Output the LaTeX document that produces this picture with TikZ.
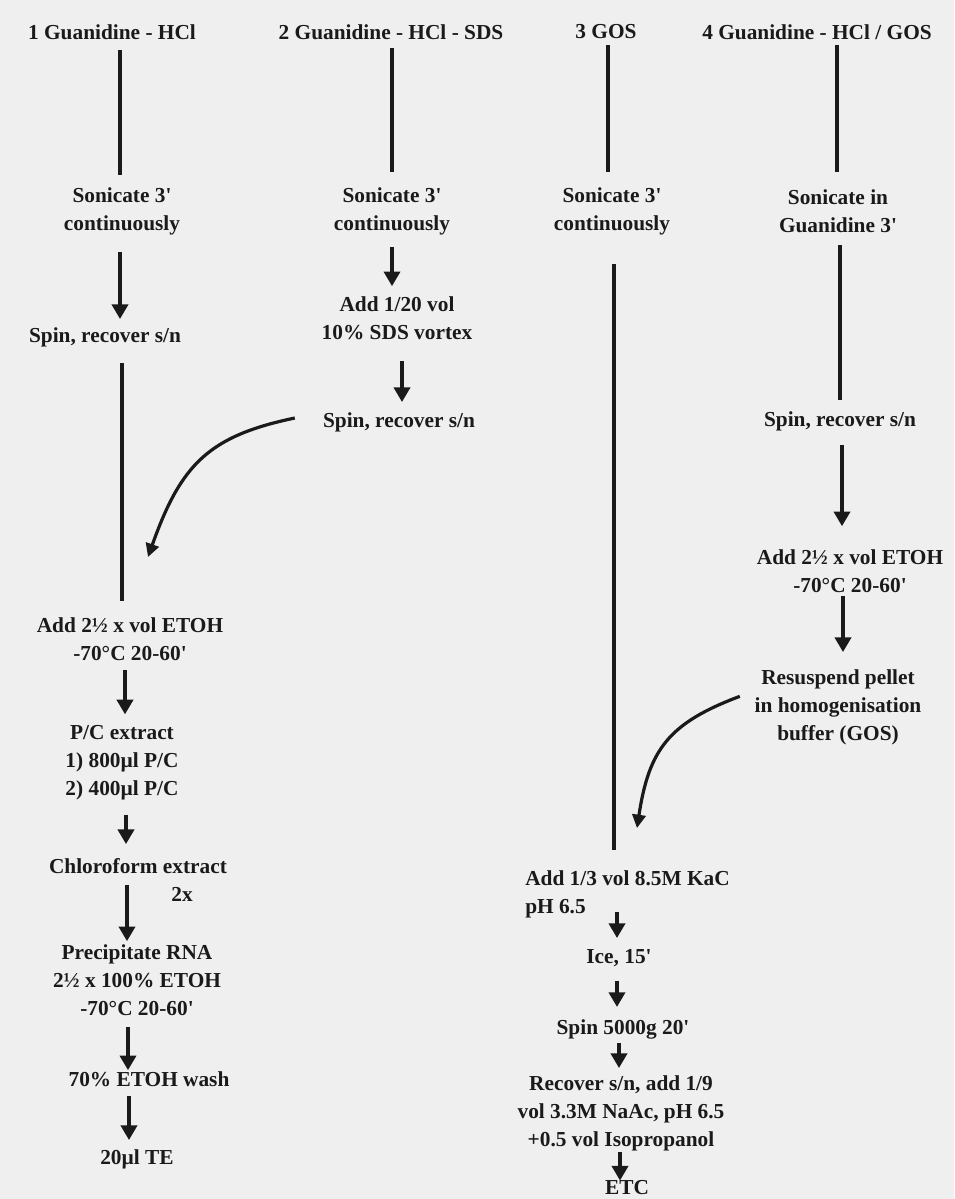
\documentclass[tikz,border=0pt]{standalone}
\usepackage{fontspec}
\setmainfont{Liberation Serif}
\usetikzlibrary{arrows.meta}
\definecolor{bg}{RGB}{239,239,239}
\definecolor{ink}{RGB}{26,26,26}
\newcommand{\pr}{\textquotesingle}
\begin{document}
\begin{tikzpicture}[x=0.75pt,y=-0.75pt,
  lbl/.style={inner sep=0pt, font=\bfseries\fontsize{16}{21}\selectfont, text=ink, align=center},
  lline/.style={line width=3.4pt, draw=ink},
  sarr/.style={line width=3.4pt, draw=ink, -{Triangle[width=12pt,length=11pt]}},
  carr/.style={line width=2.4pt, draw=ink, -{Triangle[width=10pt,length=10pt]}},
]
\fill[bg] (0,0) rectangle (954,1199);
\useasboundingbox (0,0) rectangle (954,1199);

% column 1
\node[lbl] (t1) at (112,32) {1 Guanidine - HCl};
\node[lbl] (s1) at (122,211) {Sonicate 3\pr\\continuously};
\node[lbl] (p1) at (105,337) {Spin, recover s/n};
\node[lbl] (e1) at (130,639) {Add 2½ x vol ETOH\\-70°C 20-60\pr};
\node[lbl] (pc1) at (122,763) {P/C extract\\1) 800µl P/C\\2) 400µl P/C};
\node[lbl] (ch1) at (138,866) {Chloroform extract};
\node[lbl] (x2) at (182,894) {2x};
\node[lbl] (pr1) at (137,980) {Precipitate RNA\\2½ x 100\% ETOH\\-70°C 20-60\pr};
\node[lbl] (w1) at (149,1079) {70\% ETOH wash};
\node[lbl] (te1) at (137,1159) {20µl TE};

% column 2
\node[lbl] (t2) at (391,32) {2 Guanidine - HCl - SDS};
\node[lbl] (s2) at (392,211) {Sonicate 3\pr\\continuously};
\node[lbl] (a2) at (397,318) {Add 1/20 vol\\10\% SDS vortex};
\node[lbl] (p2) at (399,422) {Spin, recover s/n};

% column 3
\node[lbl] (t3) at (606,32) {3 GOS};
\node[lbl] (s3) at (612,211) {Sonicate 3\pr\\continuously};
\node[lbl, anchor=west, align=left] (k3) at (525,894) {Add 1/3 vol 8.5M KaC\\pH 6.5};
\node[lbl] (i3) at (619,958) {Ice, 15\pr};
\node[lbl] (sp3) at (623,1029) {Spin 5000g 20\pr};
\node[lbl] (r3) at (621,1113) {Recover s/n, add 1/9\\vol 3.3M NaAc, pH 6.5\\+0.5 vol Isopropanol};
\node[lbl] (etc3) at (627,1188) {ETC};

% column 4
\node[lbl] (t4) at (817,32) {4 Guanidine - HCl / GOS};
\node[lbl] (s4) at (838,211) {Sonicate in\\Guanidine 3\pr};
\node[lbl] (p4) at (840,421) {Spin, recover s/n};
\node[lbl] (e4) at (850,571) {Add 2½ x vol ETOH\\-70°C 20-60\pr};
\node[lbl] (rs4) at (838,707) {Resuspend pellet\\in homogenisation\\buffer (GOS)};

\coordinate (cv1) at (148,557);
\coordinate (cv2) at (637,828);

% column 1 connectors
\draw[lline, shorten <=7.5pt, shorten >=9pt] (t1.south -| 120,0) -- (s1.north -| 120,0);
\draw[sarr, shorten <=12.75pt, shorten >=6pt] (s1.south -| 120,0) -- (p1.north -| 120,0);
\draw[lline, shorten <=12pt, shorten >=12pt] (p1.south -| 122,0) -- (e1.north -| 122,0);
\draw[sarr, shorten <=6.75pt, shorten >=8.25pt] (e1.south -| 125,0) -- (pc1.north -| 125,0);
\draw[sarr, shorten <=10.5pt, shorten >=10.5pt] (pc1.south -| 126,0) -- (ch1.north -| 126,0);
\draw[sarr, shorten <=8.25pt, shorten >=2.25pt] (ch1.south -| 127,0) -- (pr1.north -| 127,0);
\draw[sarr, shorten <=8.25pt, shorten >=0.75pt] (pr1.south -| 128,0) -- (w1.north -| 128,0);
\draw[sarr, shorten <=6.75pt, shorten >=6.75pt] (w1.south -| 129,0) -- (te1.north -| 129,0);

% column 2 connectors
\draw[lline, shorten <=6pt, shorten >=11.25pt] (t2.south -| 392,0) -- (s2.north -| 392,0);
\draw[sarr, shorten <=9pt, shorten >=7.5pt] (s2.south -| 392,0) -- (a2.north -| 392,0);
\draw[sarr, shorten <=15.75pt, shorten >=7.5pt] (a2.south -| 402,0) -- (p2.north -| 402,0);
\draw[carr] ([xshift=-21pt,yshift=3pt]p2.west) .. controls (209,436) and (181,464) .. (cv1);

% column 3 connectors
\draw[lline, shorten <=4.5pt, shorten >=11.25pt] (t3.south -| 608,0) -- (s3.north -| 608,0);
\draw[lline, shorten <=21.75pt, shorten >=15pt] (s3.south -| 614,0) -- (k3.north -| 614,0);
\draw[sarr, shorten <=-4.5pt, shorten >=8.25pt] (k3.south -| 617,0) -- (i3.north -| 617,0);
\draw[sarr, shorten <=10.5pt, shorten >=9pt] (i3.south -| 617,0) -- (sp3.north -| 617,0);
\draw[sarr, shorten <=3pt, shorten >=5.25pt] (sp3.south -| 619,0) -- (r3.north -| 619,0);
\draw[sarr, shorten <=0.75pt, shorten >=0pt] (r3.south -| 620,0) -- (etc3.north -| 620,0);

% column 4 connectors
\draw[lline, shorten <=3.75pt, shorten >=12.75pt] (t4.south -| 837,0) -- (s4.north -| 837,0);
\draw[lline, shorten <=9pt, shorten >=8.25pt] (s4.south -| 840,0) -- (p4.north -| 840,0);
\draw[sarr, shorten <=10.5pt, shorten >=17.25pt] (p4.south -| 842,0) -- (e4.north -| 842,0);
\draw[sarr, shorten <=2.25pt, shorten >=12.75pt] (e4.south -| 843,0) -- (rs4.north -| 843,0);
\draw[carr] ([xshift=-11pt,yshift=8pt]rs4.west) .. controls (669,723) and (649,749) .. (cv2);
\end{tikzpicture}
\end{document}
